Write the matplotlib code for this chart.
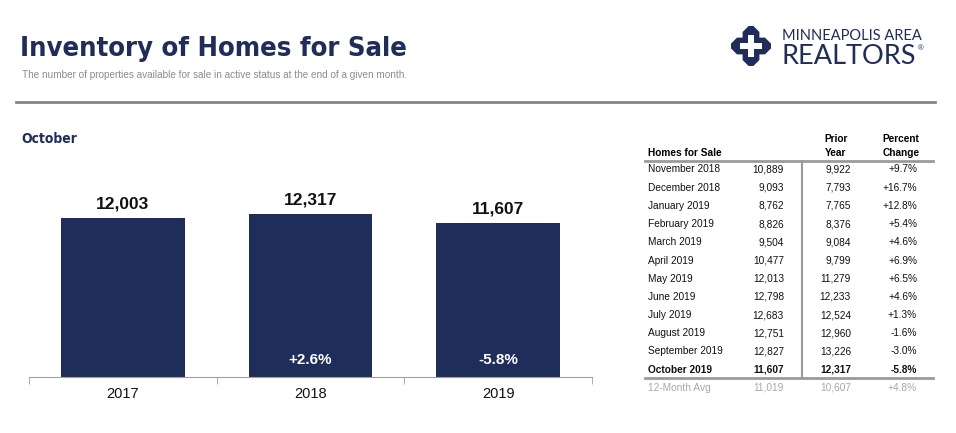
import matplotlib
matplotlib.use('Agg')
import matplotlib.pyplot as plt
from matplotlib import font_manager
from matplotlib.lines import Line2D
from matplotlib.patches import Polygon

# data
years = ['2017', '2018', '2019']
oct_values = [12003, 12317, 11607]
pct_labels = ['', '+2.6%', '-5.8%']

months = ['November 2018', 'December 2018', 'January 2019', 'February 2019',
          'March 2019', 'April 2019', 'May 2019', 'June 2019', 'July 2019',
          'August 2019', 'September 2019', 'October 2019']
current = [10889, 9093, 8762, 8826, 9504, 10477, 12013, 12798, 12683, 12751, 12827, 11607]
prior = [9922, 7793, 7765, 8376, 9084, 9799, 11279, 12233, 12524, 12960, 13226, 12317]
pct_change = ['+9.7%', '+16.7%', '+12.8%', '+5.4%', '+4.6%', '+6.9%', '+6.5%',
              '+4.6%', '+1.3%', '-1.6%', '-3.0%', '-5.8%']
avg_row = ['12-Month Avg', 11019, 10607, '+4.8%']

navy = '#1f2d5b'
gray_line = '#858585'
sans = ['Liberation Sans', 'DejaVu Sans']
plt.rcParams['font.family'] = sans

# pick a condensed bold face if there is one, else shrink the regular one
cond = [f for f in font_manager.fontManager.ttflist
        if f.weight in ('bold', 700) and (f.stretch in ('condensed', 'semi-condensed', 'extra-condensed', 300)
                                          or 'Narrow' in f.name or 'Condensed' in f.name)]
if cond:
    title_kw = dict(family=[cond[0].name, 'DejaVu Sans'], fontstretch=cond[0].stretch, fontweight='bold')
    title_fs, oct_fs = 19.6, 10
else:
    title_kw = dict(family=sans, fontweight='bold')
    title_fs, oct_fs = 21, 10.5

W, H = 956, 433
fig = plt.figure(figsize=(W / 100, H / 100), dpi=100)


def fx(x):
    return x / W


def fy(y):
    return 1 - y / H


def hline(x0, x1, y, color, lw):
    fig.add_artist(Line2D([fx(x0), fx(x1)], [fy(y), fy(y)], color=color, lw=lw,
                          transform=fig.transFigure))


# header
fig.text(fx(20), fy(49), 'Inventory of Homes for Sale', fontsize=title_fs, color=navy,
         va='center', ha='left', **title_kw)
fig.text(fx(22), fy(75), 'The number of properties available for sale in active status at the end of a given month.',
         fontsize=7.2, color='#8c8c8c', va='center', ha='left')
hline(16, 935, 101.5, gray_line, 2)
fig.text(fx(21), fy(139), 'October', fontsize=oct_fs, color=navy, va='center', ha='left', **title_kw)

# logo
cx, cy, r = 751, 46, 20
outer = [(-0.12, 1), (0.12, 1), (0.42, 0.7), (0.42, 0.42), (0.7, 0.42), (1, 0.12),
         (1, -0.12), (0.7, -0.42), (0.42, -0.42), (0.42, -0.7), (0.12, -1), (-0.12, -1),
         (-0.42, -0.7), (-0.42, -0.42), (-0.7, -0.42), (-1, -0.12), (-1, 0.12),
         (-0.7, 0.42), (-0.42, 0.42), (-0.42, 0.7)]
a, b = 0.17, 0.55
inner = [(-a, b), (a, b), (a, a), (b, a), (b, -a), (a, -a), (a, -b), (-a, -b),
         (-a, -a), (-b, -a), (-b, a), (-a, a)]
for pts, col in [(outer, navy), (inner, 'white')]:
    fig.add_artist(Polygon([(fx(cx + px * r), fy(cy - py * r)) for px, py in pts],
                           closed=True, facecolor=col, edgecolor='none',
                           transform=fig.transFigure))
fig.text(fx(782), fy(36), 'MINNEAPOLIS AREA', family=['Lato', 'DejaVu Sans'], fontsize=10.5,
         color=navy, va='center', ha='left')
fig.text(fx(781), fy(57), 'REALTORS', family=['Lato', 'DejaVu Sans'], fontsize=19.5,
         color=navy, va='center', ha='left')
fig.text(fx(918), fy(49), '®', fontsize=5.5, color=navy, va='center', ha='left')

# bar chart
ax = fig.add_axes([fx(29), fy(377), fx(592) - fx(29), fy(150) - fy(377)])
x = range(len(years))
ax.bar(x, oct_values, width=0.66, color=navy)
ax.set_xlim(-0.5, 2.5)
ax.set_ylim(0, 17150)
for i, v in enumerate(oct_values):
    ax.annotate(f'{v:,}', (i, v), xytext=(0, 5), textcoords='offset points',
                ha='center', va='bottom', fontsize=12.5, fontweight='bold', color='#111111')
    if pct_labels[i]:
        ax.annotate(pct_labels[i], (i, 0), xytext=(0, 12.5), textcoords='offset points',
                    ha='center', va='center', fontsize=11, fontweight='bold', color='white')
for s in ['top', 'left', 'right']:
    ax.spines[s].set_visible(False)
ax.spines['bottom'].set_color('#a0a0a0')
ax.set_yticks([])
ax.set_xticks(list(x))
ax.set_xticklabels(years, fontsize=10.5, color='#111111')
ax.tick_params(axis='x', which='major', length=0, pad=7)
ax.set_xticks([-0.5, 0.5, 1.5, 2.5], minor=True)
ax.tick_params(axis='x', which='minor', length=5, color='#a0a0a0')

# table
c_label, c_cur, c_prior, c_pct = 648, 784, 851, 917
fs = 7.3
fig.text(fx(648), fy(153), 'Homes for Sale', fontsize=fs, fontweight='bold', va='center')
fig.text(fx(836), fy(139), 'Prior', fontsize=fs, fontweight='bold', va='center', ha='center')
fig.text(fx(836), fy(153), 'Year', fontsize=fs, fontweight='bold', va='center', ha='center')
fig.text(fx(901), fy(139), 'Percent', fontsize=fs, fontweight='bold', va='center', ha='center')
fig.text(fx(901), fy(153), 'Change', fontsize=fs, fontweight='bold', va='center', ha='center')
hline(645, 933, 161, '#9a9a9a', 2)
hline(645, 933, 377.5, '#9a9a9a', 2)
fig.add_artist(Line2D([fx(802), fx(802)], [fy(161), fy(377)], color='#9a9a9a', lw=1.5,
                      transform=fig.transFigure))
for i, m in enumerate(months):
    y = fy(169.5 + i * 18.2)
    wt = 'bold' if i == len(months) - 1 else 'normal'
    fig.text(fx(c_label), y, m, fontsize=fs, fontweight=wt, va='center', color='#111111')
    fig.text(fx(c_cur), y, f'{current[i]:,}', fontsize=fs, fontweight=wt, va='center', ha='right', color='#111111')
    fig.text(fx(c_prior), y, f'{prior[i]:,}', fontsize=fs, fontweight=wt, va='center', ha='right', color='#111111')
    fig.text(fx(c_pct), y, pct_change[i], fontsize=fs, fontweight=wt, va='center', ha='right', color='#111111')
y = fy(388)
fig.text(fx(c_label), y, avg_row[0], fontsize=fs, va='center', color='#a8a8a8')
fig.text(fx(c_cur), y, f'{avg_row[1]:,}', fontsize=fs, va='center', ha='right', color='#a8a8a8')
fig.text(fx(c_prior), y, f'{avg_row[2]:,}', fontsize=fs, va='center', ha='right', color='#a8a8a8')
fig.text(fx(c_pct), y, avg_row[3], fontsize=fs, va='center', ha='right', color='#a8a8a8')

fig.savefig('out.png', dpi=100)
